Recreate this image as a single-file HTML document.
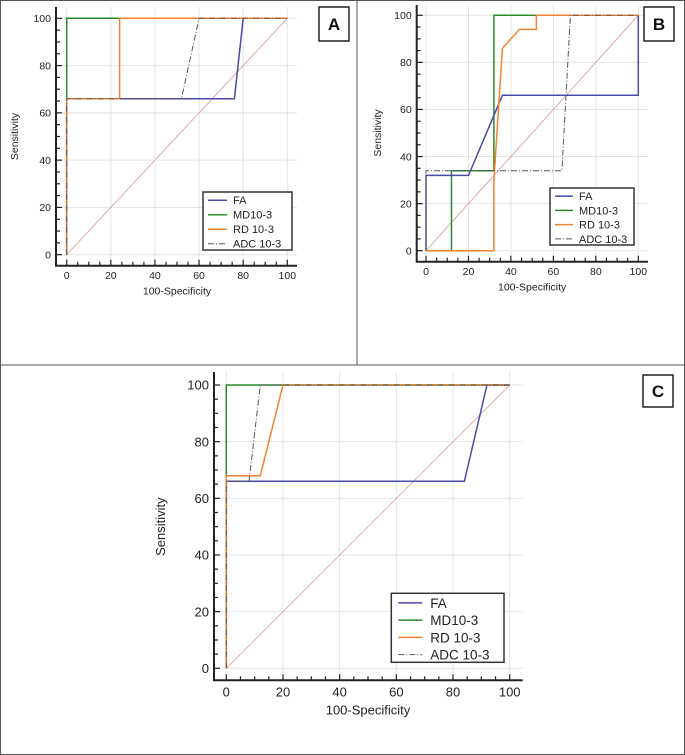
<!DOCTYPE html>
<html><head><meta charset="utf-8"><style>
html,body{margin:0;padding:0;background:#fff;}
svg{display:block;font-family:"Liberation Sans",Arial,sans-serif;}
</style></head><body>
<svg id="fig" width="685" height="755" viewBox="0 0 685 755">
<rect x="0.5" y="0.5" width="684" height="754" fill="#fff" stroke="#555"/>
<line x1="0" y1="365" x2="685" y2="365" stroke="#555"/>
<line x1="357" y1="0" x2="357" y2="365" stroke="#555"/>
</svg>
<script>
// Panel A data
const aFA_x=[0,0,76,80,100], aFA_y=[0,66,66,100,100];
const aMD_x=[0,0,0,100], aMD_y=[0,66,100,100];
const aRD_x=[0,0,24,24,100], aRD_y=[0,66,66,100,100];
const aADC_x=[0,0,52,60,100], aADC_y=[0,66,66,100,100];
// Panel B data
const bFA_x=[0,0,20,36,100,100], bFA_y=[0,32,32,66,66,100];
const bMD_x=[0,12,12,32,32,100], bMD_y=[0,0,34,34,100,100];
const bRD_x=[0,32,32,36,44,52,52,100], bRD_y=[0,0,30,86,94,94,100,100];
const bADC_x=[0,0,64,68,100], bADC_y=[0,34,34,100,100];
// Panel C data
const cFA_x=[0,0,84,92,100], cFA_y=[0,66,66,100,100];
const cMD_x=[0,0,0,100], cMD_y=[0,66,100,100];
const cRD_x=[0,0,12,20,100], cRD_y=[0,68,68,100,100];
const cADC_x=[0,0,8,12,100], cADC_y=[0,66,66,100,100];
const tickLabels=[0,20,40,60,80,100];
const seriesNames=["FA","MD10-3","RD 10-3","ADC 10-3"];

const NS="http://www.w3.org/2000/svg";
const svg=document.getElementById('fig');
function mk(tag,attrs,parent){const e=document.createElementNS(NS,tag);for(const k in attrs)e.setAttribute(k,attrs[k]);(parent||svg).appendChild(e);return e;}

function panel(p){
  const g=mk('g',{});
  
  
  const sx=v=>p.x0+(p.x1-p.x0)*v/100, sy=v=>p.y0+(p.y1-p.y0)*v/100;
  tickLabels.forEach(t=>{
    const gv=mk('line',{x1:sx(t),x2:sx(t),y1:p.top,y2:p.axY,stroke:'#e4e4e4'},g);
    
    
    const gh=mk('line',{x1:p.axX,x2:p.right,y1:sy(t),y2:sy(t),stroke:'#e4e4e4'},g);
    
    
  });
  const ax=mk('path',{d:`M${p.axX},${p.top}V${p.axY}H${p.right}`,fill:'none',stroke:'#222','stroke-width':2},g);
  
  
  for(let v=0;v<=100;v+=5){
    const maj=v%20===0, L=maj?6:4;
    mk('line',{x1:sx(v),x2:sx(v),y1:p.axY,y2:p.axY-L,stroke:'#222','stroke-width':1.2},g);
    mk('line',{x1:p.axX,x2:p.axX+L,y1:sy(v),y2:sy(v),stroke:'#222','stroke-width':1.2},g);
  }
  tickLabels.forEach(t=>{
    const tx=mk('text',{x:sx(t),y:p.axY+p.fs+3,'font-size':p.fs,'text-anchor':'middle',fill:'#222'},g);
    tx.textContent=t;
    
    
    const ty=mk('text',{x:p.axX-5,y:sy(t)+p.fs*0.36,'font-size':p.fs,'text-anchor':'end',fill:'#222'},g);
    ty.textContent=t;
    
    
  });
  const xt=mk('text',{x:(sx(0)+sx(100))/2,y:p.axY+p.fs*2+8,'font-size':p.fs,'text-anchor':'middle',fill:'#222'},g);
  xt.textContent='100-Specificity';
  
  
  const ymid=(sy(0)+sy(100))/2;
  const yt=mk('text',{x:p.ylx,y:ymid,'font-size':p.fs,'text-anchor':'middle',fill:'#222',transform:`rotate(-90 ${p.ylx} ${ymid})`},g);
  yt.textContent='Sensitivity';
  
  
  const dg=mk('line',{x1:sx(0),y1:sy(0),x2:sx(100),y2:sy(100),stroke:'#d9a3a3','stroke-width':0.9},g);
  
  
  const styles=[{c:'#4a4aaa',d:''},{c:'#2a8a2a',d:''},{c:'#f58231',d:''},{c:'#555',d:'6,2,1,2'}];
  const order=[1,0,2,3];
  order.forEach(i=>{
    const xs=p.series[i][0], ys=p.series[i][1];
    const d=xs.map((v,k)=>(k?'L':'M')+sx(v).toFixed(1)+','+sy(ys[k]).toFixed(1)).join('');
    const pl=mk('path',{d:d,fill:'none',stroke:styles[i].c,'stroke-width':i===3?1:1.5,'stroke-dasharray':styles[i].d},g);
    
    
  });
  const L=p.leg;
  const lg=mk('g',{},g);
  
  
  mk('rect',{x:L[0],y:L[1],width:L[2]-L[0],height:L[3]-L[1],fill:'#fff',stroke:'#333','stroke-width':1.5},lg);
  const rh=(L[3]-L[1])/4;
  seriesNames.forEach((n,i)=>{
    const yy=L[1]+rh*(i+0.5)+1;
    mk('line',{x1:L[0]+p.ls,x2:L[0]+p.ls+p.lw,y1:yy,y2:yy,stroke:styles[i].c,'stroke-width':i===3?1:1.5,'stroke-dasharray':styles[i].d},lg);
    const t=mk('text',{x:L[0]+p.lt,y:yy+p.fs*0.38,'font-size':p.lfs,fill:'#222'},lg);
    t.textContent=n;
    
    
  });
  const B=p.box;
  const bx=mk('rect',{x:B[0],y:B[1],width:B[2]-B[0],height:B[3]-B[1],fill:'#fff',stroke:'#222','stroke-width':1.5},g);
  
  
  const bt=mk('text',{x:(B[0]+B[2])/2,y:(B[1]+B[3])/2+6,'font-size':17,'font-weight':'bold','text-anchor':'middle',fill:'#111'},g);
  bt.textContent=p.id;
  
  
}
panel({id:'A',x0:66.7,x1:287.3,y0:254.7,y1:18.3,axX:56,axY:265.7,top:7,right:297,fs:10.5,lfs:11,ylx:18,ls:5,lw:19,lt:30,
  leg:[203,192,292,250],box:[319,7,349,41],
  series:[[aFA_x,aFA_y],[aMD_x,aMD_y],[aRD_x,aRD_y],[aADC_x,aADC_y]]});
panel({id:'B',x0:426,x1:638.3,y0:250.7,y1:15.3,axX:416.7,axY:261.7,top:5,right:648,fs:10.5,lfs:11,ylx:381,ls:5,lw:18,lt:29,
  leg:[550,188,634,245],box:[644,7,674,41],
  series:[[bFA_x,bFA_y],[bMD_x,bMD_y],[bRD_x,bRD_y],[bADC_x,bADC_y]]});
panel({id:'C',x0:226.3,x1:509.7,y0:668.3,y1:385,axX:214,axY:680.3,top:372,right:522.7,fs:13,lfs:13.5,ylx:165,ls:7,lw:24,lt:39,
  leg:[391.3,593.3,504,662.3],box:[643,375,673,407],
  series:[[cFA_x,cFA_y],[cMD_x,cMD_y],[cRD_x,cRD_y],[cADC_x,cADC_y]]});
</script>
</body></html>
